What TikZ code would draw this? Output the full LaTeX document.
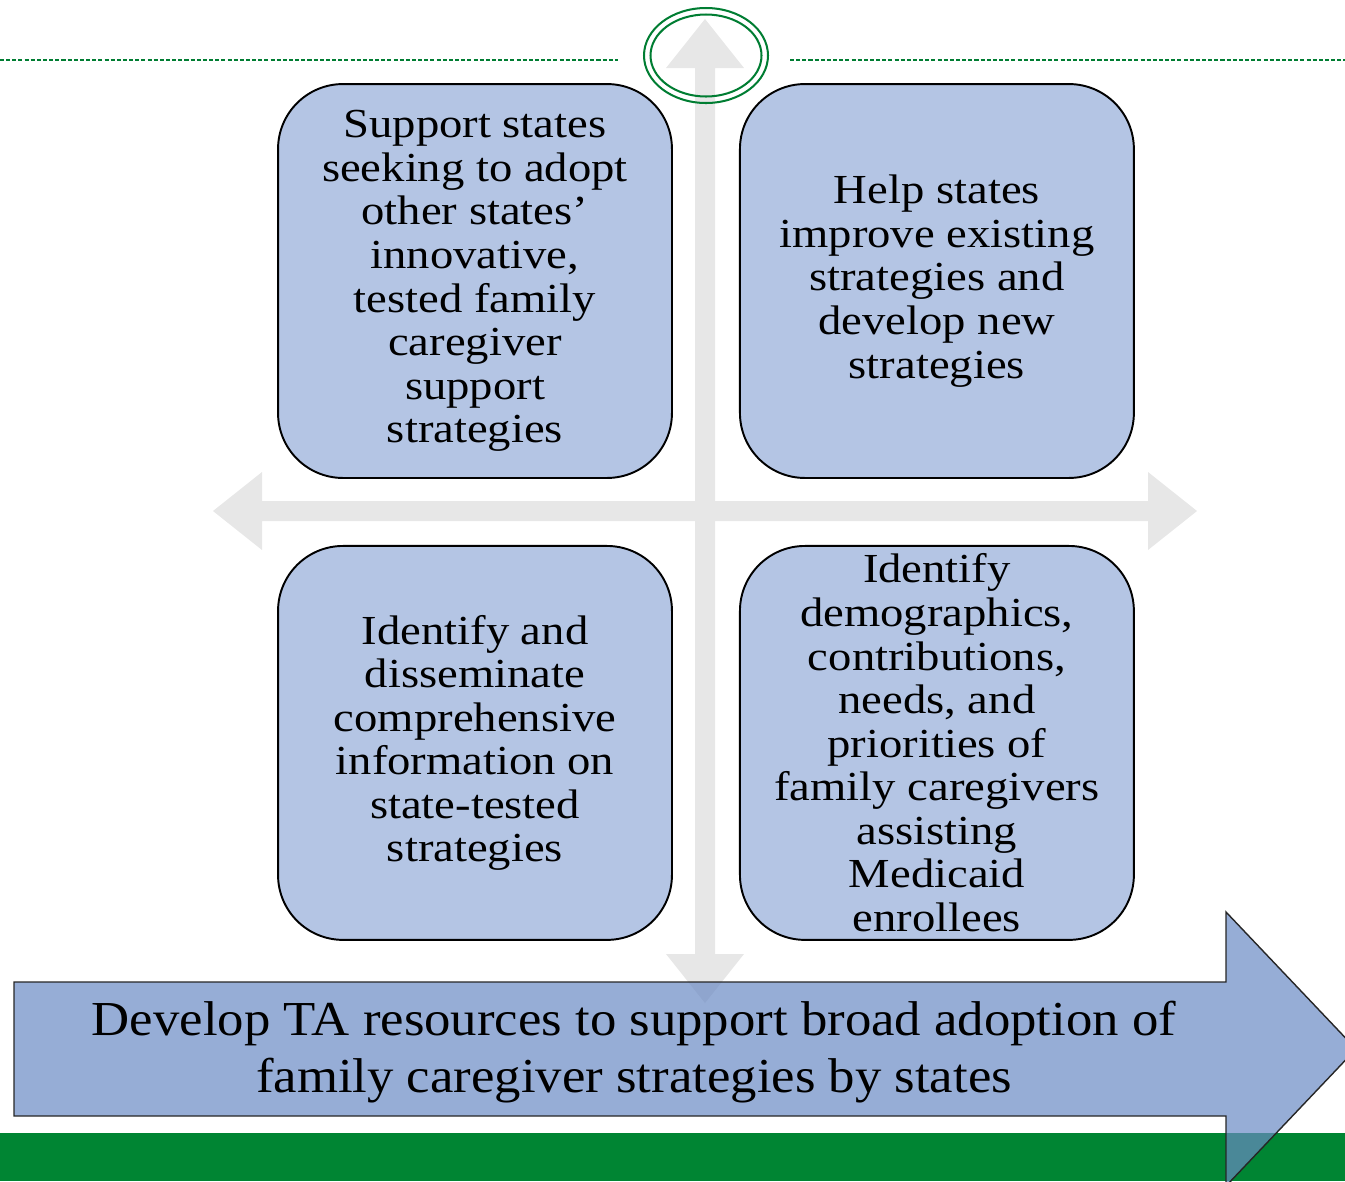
\documentclass[tikz,border=0pt]{standalone}
\usepackage{fontspec}
\setmainfont{Liberation Serif}[FakeStretch=1.08]
\newfontfamily\quadfont{Liberation Serif}[FakeStretch=1.13]
\usetikzlibrary{positioning}

\definecolor{boxblue}{RGB}{180,197,228}
\definecolor{goalblue}{RGB}{106,138,196}
\definecolor{crossgray}{RGB}{231,231,231}
\definecolor{bargreen}{RGB}{0,133,51}
\definecolor{ringgreen}{RGB}{0,125,50}

\tikzset{
	qbox/.style={draw=black, line width=1.1pt, fill=boxblue, rounded corners=1.3cm,
		minimum width=7.88cm, minimum height=7.88cm, inner sep=0pt, outer sep=0pt, align=center,
		font=\quadfont\fontsize{23.5}{24.8}\selectfont},
	goaltext/.style={align=center, inner sep=0pt, font=\fontsize{27.8}{32.3}\selectfont},
	greendash/.style={ringgreen, line width=0.6pt, dash pattern=on 2.3pt off 1.2pt}
}

\begin{document}
\begin{tikzpicture}[x=0.02cm,y=-0.02cm]
	\useasboundingbox (0,0) rectangle (1345,1181);
	\clip (0,0) rectangle (1345,1181);
	\pgfmathsetmacro\CX{705}
	\pgfmathsetmacro\CY{511}
	% green bar and top rule
	\fill[bargreen] (0,1133) rectangle (1345,1181);
	\draw[greendash] (0,60) -- (618,60);
	\draw[greendash] (790,60) -- (1345,60);
	% grey cross
	\foreach \ang in {0,90,180,270}
		\fill[crossgray,rotate around={\ang:(\CX,\CY)}]
			(\CX,\CY-10) -- (\CX+443,\CY-10) -- (\CX+443,\CY-39) -- (\CX+492,\CY)
			-- (\CX+443,\CY+39) -- (\CX+443,\CY+10) -- (\CX,\CY+10) -- cycle;
	% ring
	\draw[ringgreen,line width=1.15pt] (706,55.5) ellipse [x radius=62, y radius=47.5];
	\draw[ringgreen,line width=1.15pt] (706,55.5) ellipse [x radius=55.5, y radius=41];
	% quadrants
	\node[qbox] (tl) at (475,281) {Support states\\seeking to adopt\\other states’\\innovative,\\tested family\\caregiver\\support\\strategies};
	\node[qbox, right=1.36cm of tl] (tr) {Help states\\improve existing\\strategies and\\develop new\\strategies};
	\node[qbox, below=1.36cm of tl] (bl) {Identify and\\disseminate\\comprehensive\\information on\\state-tested\\strategies};
	\node[qbox, below=1.36cm of tr] (br) {Identify\\demographics,\\contributions,\\needs, and\\priorities of\\family caregivers\\assisting\\Medicaid\\enrollees};
	% goal arrow
	\draw[black!85,line width=0.8pt,fill=goalblue,fill opacity=0.7]
		(14,982) -- (1226,982) -- (1226,912) -- (1356,1049) -- (1226,1186)
		-- (1226,1116) -- (14,1116) -- cycle;
	\node[goaltext] (goal) at (634,1052) {Develop TA resources to support broad adoption of\\family caregiver strategies by states};
\end{tikzpicture}
\end{document}
